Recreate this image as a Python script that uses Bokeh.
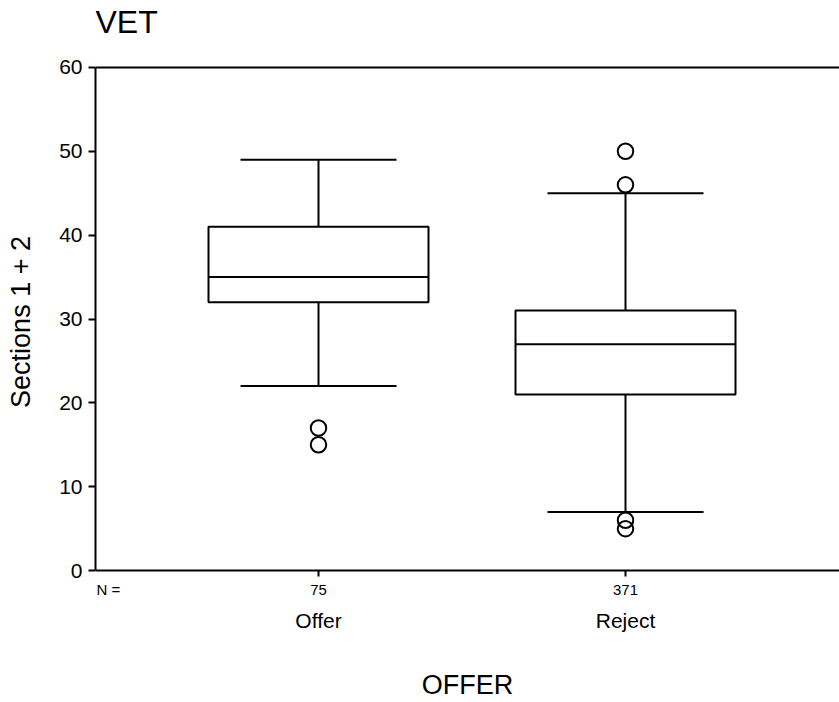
from bokeh.plotting import figure
from bokeh.models import FixedTicker, Range1d, Label, Span
from bokeh.core.properties import value
from bokeh.embed import file_html
from bokeh.resources import INLINE

# ---- data ----
categories = ["Offer", "Reject"]
n_counts = [75, 371]
lower_whisker = [22, 7]
q1 = [32, 21]
median = [35, 27]
q3 = [41, 31]
upper_whisker = [49, 45]
outlier_cat = ["Offer", "Offer", "Reject", "Reject", "Reject", "Reject"]
outlier_val = [17, 15, 50, 46, 6, 5]
y_ticks = [0, 10, 20, 30, 40, 50, 60]

FONT = "Liberation Sans"
xs = [i + 1 for i in range(len(categories))]
xpos = dict(zip(categories, xs))

# ---- layout constants (pixels) ----
W, H = 839, 702
FRAME_LEFT = 95
FRAME_BOTTOM_PAD = 58          # space below the frame for the "OFFER" title
PX_PER_X = 307.0               # pixels per category step
FIRST_CAT_PX = 223.0           # first category centre from the frame's left edge
Y0_PX, Y60_PX = 571.0, 67.0    # screen rows of the 0 and 60 ticks
FRAME_BOTTOM_PX = H - FRAME_BOTTOM_PAD
PX_PER_Y = (Y0_PX - Y60_PX) / (y_ticks[-1] - y_ticks[0])

def dy(px):
    return px / PX_PER_Y

X_START = xs[0] - FIRST_CAT_PX / PX_PER_X
X_END = X_START + (W - FRAME_LEFT) / PX_PER_X
Y_MIN, Y_MAX = y_ticks[0], y_ticks[-1]
Y_TOP = Y_MAX + dy(Y60_PX)
Y_BOTTOM = Y_MIN - dy(FRAME_BOTTOM_PX - Y0_PX)

BOX_HW = 110.0 / PX_PER_X
CAP_HW = 78.0 / PX_PER_X

p = figure(width=W, height=H, output_backend="svg", toolbar_location=None,
           x_range=Range1d(X_START, X_END), y_range=Range1d(Y_BOTTOM, Y_TOP),
           min_border_left=FRAME_LEFT, min_border_top=0,
           min_border_bottom=FRAME_BOTTOM_PAD, min_border_right=0)
p.grid.visible = False
p.outline_line_color = None
p.background_fill_color = "white"
p.border_fill_color = "white"

# title
p.add_layout(Label(x=X_START, y=Y_MAX + dy(45), text="VET", text_font=FONT,
                   text_font_size="32px", text_color="black", text_align="left",
                   text_baseline="alphabetic"))

# frame lines: top at 60, x axis line at 0
p.add_layout(Span(location=Y_MAX, dimension="width", line_color="black", line_width=2))
p.add_layout(Span(location=Y_MIN, dimension="width", line_color="black", line_width=2))

# y axis
ya = p.yaxis[0]
ya.ticker = FixedTicker(ticks=y_ticks)
ya.bounds = (Y_MIN, Y_MAX)
ya.axis_line_width = 2
ya.axis_line_color = "black"
ya.major_tick_line_color = "black"
ya.major_tick_line_width = 2
ya.major_tick_out = 7
ya.major_tick_in = 0
ya.minor_tick_line_color = None
ya.major_label_text_font = FONT
ya.major_label_text_font_size = "21px"
ya.major_label_text_color = "black"
ya.major_label_standoff = 6
ya.axis_label = "Sections 1 + 2"
ya.axis_label_text_font = FONT
ya.axis_label_text_font_size = "27px"
ya.axis_label_text_font_style = "normal"
ya.axis_label_text_color = "black"
ya.axis_label_standoff = 20

# x axis: only carries the "OFFER" title
xa = p.xaxis[0]
xa.ticker = FixedTicker(ticks=[])
xa.axis_line_color = None
xa.major_tick_line_color = None
xa.minor_tick_line_color = None
xa.major_tick_out = 0
xa.major_tick_in = 0
xa.major_label_standoff = 0
xa.axis_label = "OFFER"
xa.axis_label_text_font = FONT
xa.axis_label_text_font_size = "27px"
xa.axis_label_text_font_style = "normal"
xa.axis_label_text_color = "black"
xa.axis_label_text_line_height = 1.0
xa.axis_label_standoff = 26

# category tick marks below the 0 line
p.segment(x0=xs, y0=[Y_MIN] * len(xs), x1=xs, y1=[Y_MIN - dy(6)] * len(xs),
          line_color="black", line_width=2)

# counts row and category names
p.text(x=[X_START], y=[Y_MIN - dy(19)], text=["N ="], x_offset=1,
       text_font=value(FONT), text_font_size="15px", text_color="black",
       text_align="left", text_baseline="middle")
p.text(x=xs, y=[Y_MIN - dy(19)] * len(xs), text=[str(n) for n in n_counts],
       text_font=value(FONT), text_font_size="15px", text_color="black",
       text_align="center", text_baseline="middle")
p.text(x=xs, y=[Y_MIN - dy(50)] * len(xs), text=categories,
       text_font=value(FONT), text_font_size="21px", text_color="black",
       text_align="center", text_baseline="middle")

# whiskers
p.segment(x0=xs, y0=q3, x1=xs, y1=upper_whisker, line_color="black", line_width=2)
p.segment(x0=xs, y0=q1, x1=xs, y1=lower_whisker, line_color="black", line_width=2)
p.segment(x0=[x - CAP_HW for x in xs], y0=upper_whisker, x1=[x + CAP_HW for x in xs],
          y1=upper_whisker, line_color="black", line_width=2)
p.segment(x0=[x - CAP_HW for x in xs], y0=lower_whisker, x1=[x + CAP_HW for x in xs],
          y1=lower_whisker, line_color="black", line_width=2)

# boxes
p.quad(left=[x - BOX_HW for x in xs], right=[x + BOX_HW for x in xs], bottom=q1, top=q3,
       fill_color="white", line_color="black", line_width=2)
p.segment(x0=[x - BOX_HW for x in xs], y0=median, x1=[x + BOX_HW for x in xs], y1=median,
          line_color="black", line_width=2)

# outliers
p.scatter(x=[xpos[c] for c in outlier_cat], y=outlier_val, marker="circle", size=15.5,
          fill_color=None, line_color="black", line_width=2)

open("out.html", "w").write(file_html(p, INLINE))
